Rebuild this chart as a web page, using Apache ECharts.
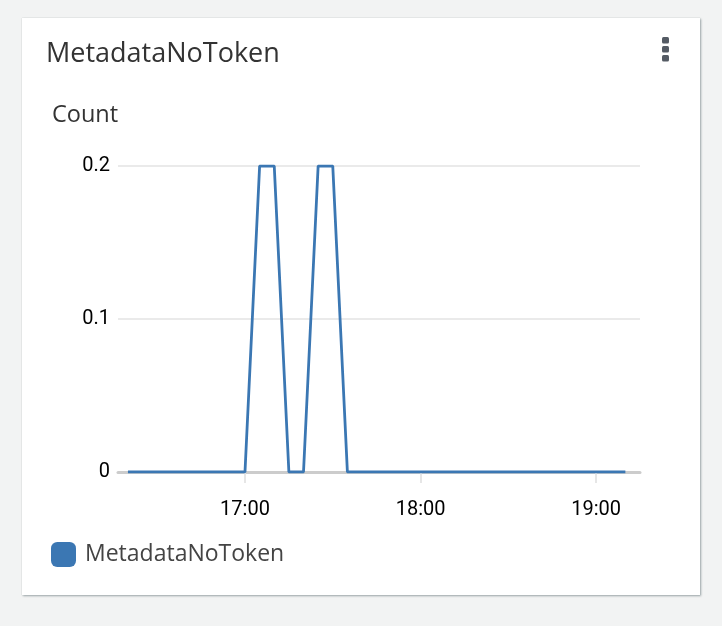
<!DOCTYPE html>
<html>
<head>
<meta charset="utf-8">
<script src="https://cdn.jsdelivr.net/npm/echarts@6/dist/echarts.min.js"></script>
<style>
  html, body { margin:0; padding:0; background:#f2f3f3; width:722px; height:626px; overflow:hidden; }
  #card { position:absolute; left:22px; top:18px; width:678px; height:577px; background:#fff;
          box-shadow: 1px 1px 2px rgba(0,28,36,0.35), 0 0 1px rgba(0,28,36,0.2); }
  #chart { position:absolute; left:0; top:0; width:722px; height:626px; }
</style>
</head>
<body>
<div id="card"></div>
<div id="chart"></div>
<script>
// ---- data ----
const times = ['16:20','16:25','16:30','16:35','16:40','16:45','16:50','16:55',
               '17:00','17:05','17:10','17:15','17:20','17:25','17:30','17:35',
               '17:40','17:45','17:50','17:55','18:00','18:05','18:10','18:15',
               '18:20','18:25','18:30','18:35','18:40','18:45','18:50','18:55',
               '19:00','19:05','19:10'];
const counts = [0,0,0,0,0,0,0,0,
                0,0.2,0.2,0,0,0.2,0.2,0,
                0,0,0,0,0,0,0,0,
                0,0,0,0,0,0,0,0,
                0,0,0];
const xTickLabels = ['17:00','18:00','19:00'];
const yTickLabels = ['0','0.1','0.2'];
const seriesName = 'MetadataNoToken';
const widgetTitle = 'MetadataNoToken';
const yUnit = 'Count';

function toMin(s){ const p = s.split(':'); return (+p[0])*60 + (+p[1]); }
const seriesData = times.map((t,i) => [toMin(t), counts[i]]);
const xTickVals = xTickLabels.map(toMin);

const FONT = 'Roboto';
const TFONT = '"Open Sans"';
const chart = echarts.init(document.getElementById('chart'), null, {renderer:'canvas'});
chart.setOption({
  animation: false,
  backgroundColor: 'transparent',
  textStyle: { fontFamily: FONT },
  grid: { left: 118, right: 82, top: 166, bottom: 154, containLabel: false },
  graphic: [
    { type:'text', left: 46, top: 41, style: { text: widgetTitle, font: '27px ' + TFONT, fill:'#333' } , silent:true},
    { type:'text', left: 52, top: 103, style: { text: yUnit, font: '23.5px ' + TFONT, fill:'#333' }, silent:true },
    { type:'rect', left: 662, top: 37, shape:{ width:7, height:6.5, r:1.5 }, style:{ fill:'#545b64' } },
    { type:'rect', left: 662, top: 46, shape:{ width:7, height:6.5, r:1.5 }, style:{ fill:'#545b64' } },
    { type:'rect', left: 662, top: 55, shape:{ width:7, height:6.5, r:1.5 }, style:{ fill:'#545b64' } }
  ],
  legend: {
    left: 51, top: 542, padding: 0, icon: 'roundRect', itemWidth: 25, itemHeight: 25, itemGap: 20,
    textStyle: { fontFamily: 'Open Sans', fontSize: 23, color: '#444', padding: [0,0,0,4] },
    data: [{ name: seriesName, itemStyle: { color:'#3b77b3', borderRadius: 6 } }]
  },
  xAxis: {
    type: 'value',
    min: 976.6, max: 1155,
    axisLine: { show: true, lineStyle: { color:'#cccccc', width: 3 } },
    axisTick: { show: true, customValues: xTickVals, length: 11, lineStyle: { color:'#e6e6e6', width: 2 } },
    axisLabel: { customValues: xTickVals, margin: 28, fontSize: 20, color:'#000', fontFamily: FONT,
                 formatter: v => xTickLabels[xTickVals.indexOf(v)] || '' },
    splitLine: { show: false }
  },
  yAxis: {
    type: 'value', min: 0, max: 0.2, interval: 0.1,
    axisLine: { show: false }, axisTick: { show: false },
    axisLabel: { margin: 8, fontSize: 20, color:'#000', fontFamily: FONT,
                 formatter: v => yTickLabels[Math.round(v*10)] },
    splitLine: { show: true, lineStyle: { color:'#eaeaea', width: 2 } }
  },
  series: [{
    name: seriesName, type: 'line', data: seriesData,
    showSymbol: false, symbol: 'none',
    lineStyle: { color:'#3b77b3', width: 2.8 },
    itemStyle: { color:'#3b77b3' },
    z: 5
  }]
});
</script>
</body>
</html>
